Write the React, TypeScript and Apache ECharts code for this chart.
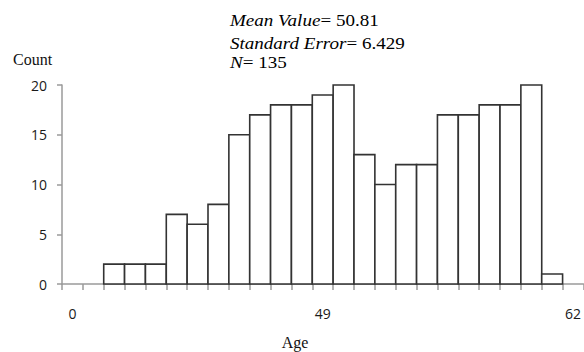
import React, { useEffect, useRef } from "react";
import * as echarts from "echarts";

const counts: (number | null)[] = [
  null, null, 2, 2, 2, 7, 6, 8, 15, 17, 18, 18, 19, 20, 13, 10, 12, 12, 17, 17, 18, 18, 20, 1, null,
];
const xTickLabels: string[] = [
  "0", "", "", "", "", "", "", "", "", "", "", "", "49", "", "", "", "", "", "", "", "", "", "", "", "62",
];
const yTicks = { min: 0, max: 20, interval: 5 };
const statLines: [string, string][] = [
  ["Mean Value", "= 50.81"],
  ["Standard Error", "= 6.429"],
  ["N", "= 135"],
];
const yTitle = "Count";
const xTitle = "Age";

export default function App() {
  const ref = useRef<HTMLDivElement>(null);
  useEffect(() => {
    if (!ref.current) return;
    const chart = echarts.init(ref.current, undefined, { renderer: "svg" });
    const serif = "'Liberation Serif', 'Times New Roman', serif";
    const sans = "'Open Sans', sans-serif";
    const lineY = [20.3, 43.6, 63];
    const data = counts.map((v, i) => [i, v == null ? 0 : v]);
    chart.setOption({
      animation: false,
      backgroundColor: "#ffffff",
      grid: { left: 62, right: -0.5, top: 85, bottom: 68, containLabel: false },
      xAxis: {
        type: "category",
        data: xTickLabels.map((l, i) => (l === "" ? "c" + i : l)),
        boundaryGap: true,
        axisLine: { show: true, lineStyle: { color: "#9a9a9a", width: 1.5 } },
        axisTick: { show: true, length: 6, interval: 0, lineStyle: { color: "#9a9a9a", width: 1.5 } },
        axisLabel: {
          interval: 0,
          margin: 22,
          fontFamily: sans,
          fontSize: 14,
          color: "#1a1a1a",
          formatter: (v: string) => (v.startsWith("c") ? "" : v),
        },
        splitLine: { show: false },
      },
      yAxis: {
        type: "value",
        min: yTicks.min,
        max: yTicks.max,
        interval: yTicks.interval,
        axisLine: { show: true, lineStyle: { color: "#9a9a9a", width: 1.5 } },
        axisTick: { show: true, length: 5, lineStyle: { color: "#9a9a9a", width: 1.5 } },
        axisLabel: { margin: 15, fontFamily: sans, fontSize: 14, color: "#1a1a1a" },
        splitLine: { show: false },
      },
      series: [
        {
          type: "custom",
          data,
          silent: true,
          z: 1,
          renderItem: (params: any, api: any) => {
            const v = api.value(1);
            if (!v) return null;
            const idx = api.value(0);
            const top = api.coord([idx, v]);
            const base = api.coord([idx, 0]);
            const w = api.size([1, 0])[0];
            return {
              type: "rect",
              shape: { x: top[0] - w / 2, y: top[1], width: w, height: base[1] - top[1] },
              style: { fill: "#ffffff", stroke: "#333333", lineWidth: 1.6 },
            };
          },
        },
      ],
      graphic: [
        {
          type: "text",
          left: 13,
          top: 51,
          style: { text: yTitle, font: `16px ${serif}`, fill: "#111" },
        },
        {
          type: "text",
          x: 295,
          y: 342,
          style: { text: xTitle, font: `16px ${serif}`, fill: "#111", align: "center", verticalAlign: "middle" },
        },
        {
          type: "group",
          x: 230,
          y: 0,
          scaleX: 1.19,
          children: statLines.map((s, i) => ({
            type: "text",
            x: 0,
            y: lineY[i],
            style: {
              text: `{i|${s[0]}}{n|${s[1]}}`,
              verticalAlign: "middle",
              rich: {
                i: { fontFamily: serif, fontStyle: "italic", fontSize: 16, color: "#111" },
                n: { fontFamily: serif, fontSize: 16, color: "#111" },
              },
            },
          })),
        },
      ],
    });
    return () => chart.dispose();
  }, []);
  return (
    <div
      ref={ref}
      style={{ width: 584, height: 352, position: "fixed", left: 0, top: 0 }}
    />
  );
}
